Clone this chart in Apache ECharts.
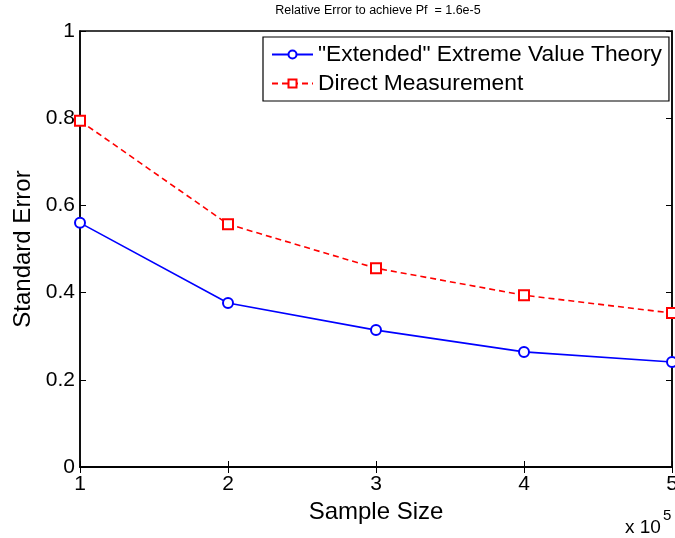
<!DOCTYPE html>
<html>
<head>
<meta charset="utf-8">
<script src="https://cdn.jsdelivr.net/npm/echarts@6/dist/echarts.min.js"></script>
<style>
  html, body { margin: 0; padding: 0; background: #fff; }
  #chart { width: 675px; height: 538px; }
</style>
</head>
<body>
<div id="chart"></div>
<script>
// sample size in units of 1e5
const sampleSize = [1, 2, 3, 4, 5];
const evtError = [0.56, 0.376, 0.314, 0.264, 0.241];
const directError = [0.794, 0.557, 0.456, 0.394, 0.353];

const font = 'Liberation Sans';
const chart = echarts.init(document.getElementById('chart'));

const pair = (xs, ys) => xs.map((x, i) => [x, ys[i]]);
const black = { color: '#000', width: 1.5 };

chart.setOption({
  animation: false,
  grid: {
    left: 80, right: 3, top: 31, bottom: 71,
    outerBoundsMode: 'none', containLabel: false,
    show: true, borderColor: '#000', borderWidth: 1.5
  },
  legend: {
    orient: 'vertical', left: 263, top: 37,
    backgroundColor: '#fff', borderColor: '#000', borderWidth: 1.2,
    padding: [6, 7, 6, 8], itemGap: 6, itemWidth: 41, itemHeight: 10,
    textStyle: { fontFamily: font, fontSize: 22.8, color: '#000' },
    data: ['"Extended" Extreme Value Theory', 'Direct Measurement']
  },
  xAxis: [{
    type: 'value', min: 1, max: 5, interval: 1,
    name: 'Sample Size', nameLocation: 'middle', nameGap: 32,
    nameTextStyle: { fontFamily: font, fontSize: 24, color: '#000' },
    axisLine: { show: true, onZero: false, lineStyle: black },
    axisTick: { inside: true, length: 6, lineStyle: { color: '#000' } },
    axisLabel: { fontFamily: font, fontSize: 21, color: '#000', margin: 7 },
    splitLine: { show: false }
  }, {
    type: 'value', min: 1, max: 5, interval: 1, position: 'top',
    axisLine: { show: true, lineStyle: black },
    axisTick: { inside: true, length: 6, lineStyle: { color: '#000' } },
    axisLabel: { show: false }, splitLine: { show: false }
  }],
  yAxis: [{
    type: 'value', min: 0, max: 1, interval: 0.2,
    name: 'Standard Error', nameLocation: 'middle', nameGap: 57,
    nameTextStyle: { fontFamily: font, fontSize: 24, color: '#000', verticalAlign: 'middle' },
    axisLine: { show: true, onZero: false, lineStyle: black },
    axisTick: { inside: true, length: 6, lineStyle: { color: '#000' } },
    axisLabel: { fontFamily: font, fontSize: 21, color: '#000', margin: 5,
      formatter: v => String(+v.toFixed(1)) },
    splitLine: { show: false }
  }, {
    type: 'value', min: 0, max: 1, interval: 0.2, position: 'right',
    axisLine: { show: true, lineStyle: black },
    axisTick: { inside: true, length: 6, lineStyle: { color: '#000' } },
    axisLabel: { show: false }, splitLine: { show: false }
  }],
  graphic: [{
    type: 'text', x: 378, y: 11,
    style: {
      text: 'Relative Error to achieve Pf  = 1.6e-5',
      font: '12.5px "Liberation Sans"', fill: '#000',
      align: 'center', verticalAlign: 'middle'
    }
  }, {
    type: 'text', x: 625, y: 537,
    style: { text: 'x 10', font: '19px "Liberation Sans"', fill: '#000', verticalAlign: 'bottom' }
  }, {
    type: 'text', x: 663, y: 523,
    style: { text: '5', font: '15px "Liberation Sans"', fill: '#000', verticalAlign: 'bottom' }
  }],
  series: [{
    name: '"Extended" Extreme Value Theory', type: 'line',
    data: pair(sampleSize, evtError),
    symbol: 'emptyCircle', symbolSize: 10,
    itemStyle: { color: '#0000ff', borderWidth: 1.5 },
    lineStyle: { color: '#0000ff', width: 1.6 }
  }, {
    name: 'Direct Measurement', type: 'line',
    data: pair(sampleSize, directError),
    symbol: 'emptyRect', symbolSize: 10,
    itemStyle: { color: '#ff0000', borderWidth: 1.5 },
    lineStyle: { color: '#ff0000', width: 1.6, type: [6, 4] }
  }]
});
</script>
</body>
</html>
